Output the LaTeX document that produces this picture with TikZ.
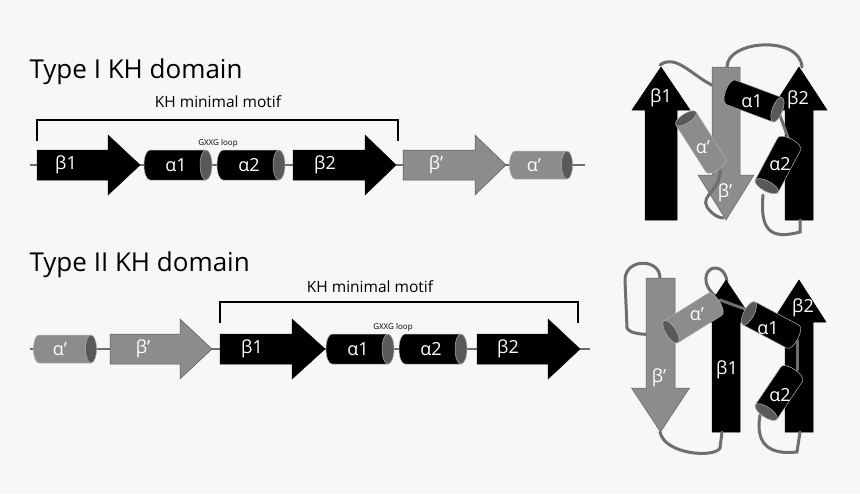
\documentclass[tikz,border=0pt]{standalone}
\usepackage{fontspec}
\setmainfont{Open Sans}
\begin{document}
\begin{tikzpicture}[x=1pt,y=1pt,
  loopl/.style={draw=lp,line width=3pt,line cap=round},
  lbl/.style={text=white,font=\fontsize{18}{18}\selectfont},
  ttl/.style={anchor=west,font=\fontsize{26}{26}\selectfont},
  kh/.style={font=\fontsize{15.5}{16}\selectfont},
  gx/.style={font=\fontsize{8}{8}\selectfont},
  brk/.style={line width=2.5pt}]
\definecolor{bg}{HTML}{F7F7F7}
\definecolor{lp}{HTML}{6E6E6E}
\definecolor{gr}{HTML}{8C8C8C}
\definecolor{dk}{HTML}{595959}
\newcommand\myharrow[6]{% x0 xbase xtip y fill draw
  \filldraw[fill=#5,draw=#6,line width=0.5pt] (#1,#4+15)--(#2,#4+15)--(#2,#4+30)--(#3,#4)--(#2,#4-30)--(#2,#4-15)--(#1,#4-15)--cycle;}
\newcommand\myvarrow[7]{%
  \filldraw[fill=#7,draw=#7!70!black,line width=0.5pt] (#1,#3)--(#1,#4)--({(#1+#2)/2-#6},#4)--({(#1+#2)/2},#5)--({(#1+#2)/2+#6},#4)--(#2,#4)--(#2,#3)--cycle;}
\newcommand\mycyl[7]{% cx cy angle L r bodyfill endfill
  \begin{scope}[shift={(#1,#2)},rotate=#3]
  \filldraw[fill=#6,draw=gray!60,line width=0.5pt] (-#4/2,#5)--(#4/2,#5)--(#4/2,-#5)--(-#4/2,-#5) arc[start angle=270,end angle=90,x radius=0.4*#5,y radius=#5]--cycle;
  \filldraw[fill=#7,draw=gray!60,line width=0.5pt] (#4/2,0) ellipse[x radius=0.4*#5,y radius=#5];
  \end{scope}}
\fill[bg] (0,0) rectangle (860,-493);
\useasboundingbox (0,0) rectangle (860,-493);
% ---------- Row 1 ----------
\node[ttl] (t1) at (26,-72) {Type I KH domain};
\draw[lp,line width=2.5pt] (30,-165)--(585,-165);
\myharrow{37}{108}{140}{-165}{black}{black}
\mycyl{178}{-165}{0}{56}{15}{black}{dk}
\mycyl{251}{-165}{0}{56}{15}{black}{dk}
\myharrow{293}{365}{396}{-165}{black}{black}
\myharrow{403}{475}{506}{-165}{gr}{dk}
\mycyl{541}{-165}{0}{52}{14}{gr}{dk}
\node[lbl] (a1) at (66,-165) {β1};
\node[lbl] (a2) at (176,-165) {α1};
\node[lbl] (a3) at (249,-165) {α2};
\node[lbl] (a4) at (325,-165) {β2};
\node[lbl] (a5) at (436,-165) {β’};
\node[lbl] (a6) at (534,-165) {α’};
\node[gx] (g1) at (218,-143) {GXXG loop};
\draw[brk] (37,-141)--(37,-120)--(398,-120)--(398,-141);
\node[kh] (k1) at (218,-102) {KH minimal motif};
% ---------- Row 2 ----------
\node[ttl] (t2) at (26,-265) {Type II KH domain};
\draw[lp,line width=2.5pt] (30,-349)--(590,-349);
\mycyl{65}{-349}{0}{52}{14}{gr}{dk}
\myharrow{110}{180}{212}{-349}{gr}{dk}
\myharrow{220}{292}{325}{-349}{black}{black}
\mycyl{360}{-349}{0}{56}{15}{black}{dk}
\mycyl{433}{-349}{0}{56}{15}{black}{dk}
\myharrow{477}{548}{580}{-349}{black}{black}
\node[lbl] (b1) at (60,-349) {α’};
\node[lbl] (b2) at (143,-349) {β’};
\node[lbl] (b3) at (252,-349) {β1};
\node[lbl] (b4) at (358,-349) {α1};
\node[lbl] (b5) at (431,-349) {α2};
\node[lbl] (b6) at (508,-349) {β2};
\node[gx] (g2) at (393,-327) {GXXG loop};
\draw[brk] (220,-323)--(220,-302)--(578,-302)--(578,-323);
\node[kh] (k2) at (370,-287) {KH minimal motif};
% ---------- Top right ----------
\draw[loopl] (727,-67) .. controls (727,-40) and (800,-35) .. (802,-67);
\myvarrow{645}{677}{-220}{-110}{-67}{29}{black}
\myvarrow{785}{813}{-220}{-110}{-67}{28}{black}
\draw[loopl] (660,-65) .. controls (680,-50) and (700,-90) .. (735,-92);
\myvarrow{712}{740}{-67}{-175}{-220}{28}{gr}
\draw[loopl] (778,-110) -- (790,-143);
\draw[loopl] (763,-195) .. controls (760,-230) and (770,-240) .. (800,-232) -- (800,-220);
\draw[loopl] (720,-168) .. controls (722,-190) and (700,-195) .. (707,-207) .. controls (712,-215) and (720,-218) .. (723,-218);
\mycyl{754}{-101}{-20.5}{50}{13}{black}{dk}
\mycyl{778}{-165}{242}{48}{13}{black}{dk}
\mycyl{701}{-142}{122.6}{56}{12}{gr}{dk}
\node[lbl] (c1) at (661,-98) {β1};
\node[lbl] (c2) at (798,-100) {β2};
\node[lbl] (c3) at (752,-101) {α1};
\node[lbl] (c4) at (780,-164) {α2};
\node[lbl] (c5) at (703,-147) {α’};
\node[lbl] (c6) at (725,-193) {β’};
% ---------- Bottom right ----------
\draw[loopl] (660,-278) .. controls (660,-258) and (625,-258) .. (625,-280) -- (627,-328) .. controls (630,-335) and (650,-335) .. (663,-334);
\draw[loopl] (717,-297) .. controls (700,-285) and (705,-268) .. (715,-268) .. controls (725,-268) and (727,-280) .. (727,-282);
\myvarrow{646}{675}{-278}{-388}{-432}{29}{gr}
\myvarrow{712}{740}{-432}{-322}{-280}{28}{black}
\myvarrow{785}{813}{-432}{-322}{-280}{27}{black}
\draw[loopl] (720,-300) -- (745,-309);
\draw[loopl] (797,-340) -- (797,-370);
\draw[loopl] (760,-415) .. controls (755,-445) and (770,-455) .. (797,-452) -- (800,-432);
\draw[loopl] (660,-432) .. controls (665,-455) and (715,-458) .. (720,-448) -- (722,-432);
\mycyl{693}{-318}{212}{52}{13}{gr}{dk}
\mycyl{771}{-325}{152}{50}{13}{black}{dk}
\mycyl{779}{-393}{236}{46}{13}{black}{dk}
\node[lbl] (d1) at (659,-378) {β’};
\node[lbl] (d2) at (727,-370) {β1};
\node[lbl] (d3) at (803,-308) {β2};
\node[lbl] (d4) at (768,-328) {α1};
\node[lbl] (d5) at (780,-395) {α2};
\node[lbl] (d6) at (697,-314) {α’};
\end{tikzpicture}
\end{document}
